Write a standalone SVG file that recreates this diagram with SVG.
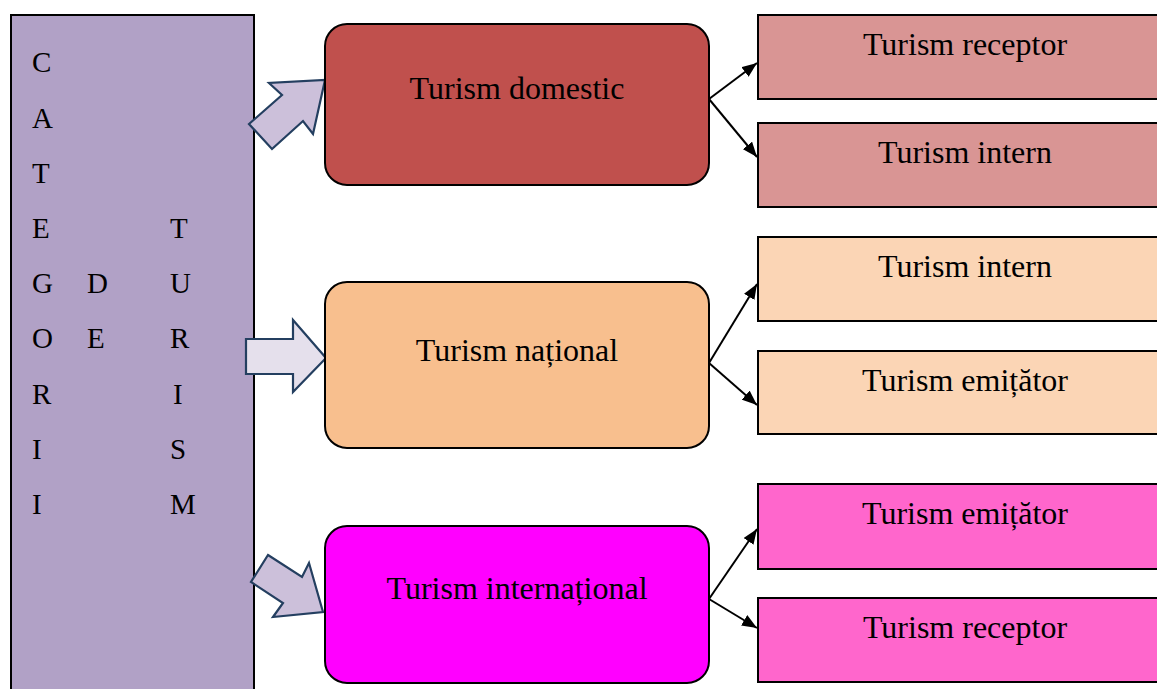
<svg xmlns="http://www.w3.org/2000/svg" width="1157" height="689" viewBox="0 0 1157 689">
  <style>
    text { font-family: "Liberation Serif", "Times New Roman", serif; fill: #000; }
    .lbl { font-size: 32px; text-anchor: middle; }
    .let { font-size: 29px; }
    .mid { stroke: #000; stroke-width: 2; }
    .leaf { stroke: #000; stroke-width: 2; }
    .block { stroke: #243f60; stroke-width: 2.2; stroke-linejoin: miter; }
    .conn { stroke: #000; stroke-width: 2; fill: none; marker-end: url(#tip); }
  </style>
  <defs>
    <marker id="tip" viewBox="0 0 10 10" refX="10" refY="5" markerWidth="15" markerHeight="12" markerUnits="userSpaceOnUse" orient="auto" preserveAspectRatio="none">
      <path d="M0,0 L10,5 L0,10 Z" fill="#000"/>
    </marker>
  </defs>
  <rect width="1157" height="689" fill="#fff"/>

  <!-- category column -->
  <g id="categorii">
    <rect x="11" y="15" width="243" height="690" fill="#b1a1c6" stroke="#000" stroke-width="2"/>
    <text class="let" x="32" y="72">C</text>
    <text class="let" x="32" y="128">A</text>
    <text class="let" x="32" y="183">T</text>
    <text class="let" x="32" y="238">E</text>
    <text class="let" x="32" y="293">G</text>
    <text class="let" x="32" y="348">O</text>
    <text class="let" x="32" y="404">R</text>
    <text class="let" x="32" y="459">I</text>
    <text class="let" x="32" y="514">I</text>
    <text class="let" x="87" y="293">D</text>
    <text class="let" x="87" y="348">E</text>
    <text class="let" x="170" y="238">T</text>
    <text class="let" x="170" y="293">U</text>
    <text class="let" x="170" y="348">R</text>
    <text class="let" x="173" y="404">I</text>
    <text class="let" x="170" y="459">S</text>
    <text class="let" x="170" y="514">M</text>
  </g>

  <!-- block arrows -->
  <g id="sageti">
    <polygon class="block" fill="#ccc0da" points="325,80 313,134 303,121 272,149 249,124 282,95 269,83"/>
    <polygon class="block" fill="#e5e0ec" points="246,339 293,339 293,320 326,358 293,392 293,374 246,374"/>
    <polygon class="block" fill="#ccc0da" points="268,555 302,577 309,563 323,612 273,617 283,603 251,582"/>
  </g>

  <!-- middle nodes -->
  <g id="domestic">
    <rect class="mid" x="325" y="24" width="384" height="161" rx="22" fill="#c0504d"/>
    <text class="lbl" x="517" y="99">Turism domestic</text>
  </g>
  <g id="national">
    <rect class="mid" x="325" y="282" width="384" height="166" rx="22" fill="#f8bf8e"/>
    <text class="lbl" x="517" y="361">Turism național</text>
  </g>
  <g id="international">
    <rect class="mid" x="325" y="526" width="384" height="157" rx="22" fill="#ff00ff"/>
    <text class="lbl" x="517" y="599">Turism internațional</text>
  </g>

  <!-- right-hand nodes -->
  <g id="domestic-receptor">
    <rect class="leaf" x="758" y="15" width="420" height="84" fill="#d99594"/>
    <text class="lbl" x="965" y="55">Turism receptor</text>
  </g>
  <g id="domestic-intern">
    <rect class="leaf" x="758" y="123" width="420" height="84" fill="#d99594"/>
    <text class="lbl" x="965" y="163">Turism intern</text>
  </g>
  <g id="national-intern">
    <rect class="leaf" x="758" y="237" width="420" height="84" fill="#fbd5b5"/>
    <text class="lbl" x="965" y="277">Turism intern</text>
  </g>
  <g id="national-emitator">
    <rect class="leaf" x="758" y="351" width="420" height="83" fill="#fbd5b5"/>
    <text class="lbl" x="965" y="391">Turism emițător</text>
  </g>
  <g id="international-emitator">
    <rect class="leaf" x="758" y="484" width="420" height="85" fill="#ff66cc"/>
    <text class="lbl" x="965" y="524">Turism emițător</text>
  </g>
  <g id="international-receptor">
    <rect class="leaf" x="758" y="598" width="420" height="84" fill="#ff66cc"/>
    <text class="lbl" x="965" y="638">Turism receptor</text>
  </g>

  <!-- connectors -->
  <g id="conectori">
    <line class="conn" x1="709" y1="99" x2="757" y2="63"/>
    <line class="conn" x1="709" y1="99" x2="757" y2="157"/>
    <line class="conn" x1="709" y1="363" x2="757" y2="284"/>
    <line class="conn" x1="709" y1="363" x2="757" y2="405"/>
    <line class="conn" x1="709" y1="599" x2="757" y2="529"/>
    <line class="conn" x1="709" y1="599" x2="757" y2="628"/>
  </g>
</svg>
